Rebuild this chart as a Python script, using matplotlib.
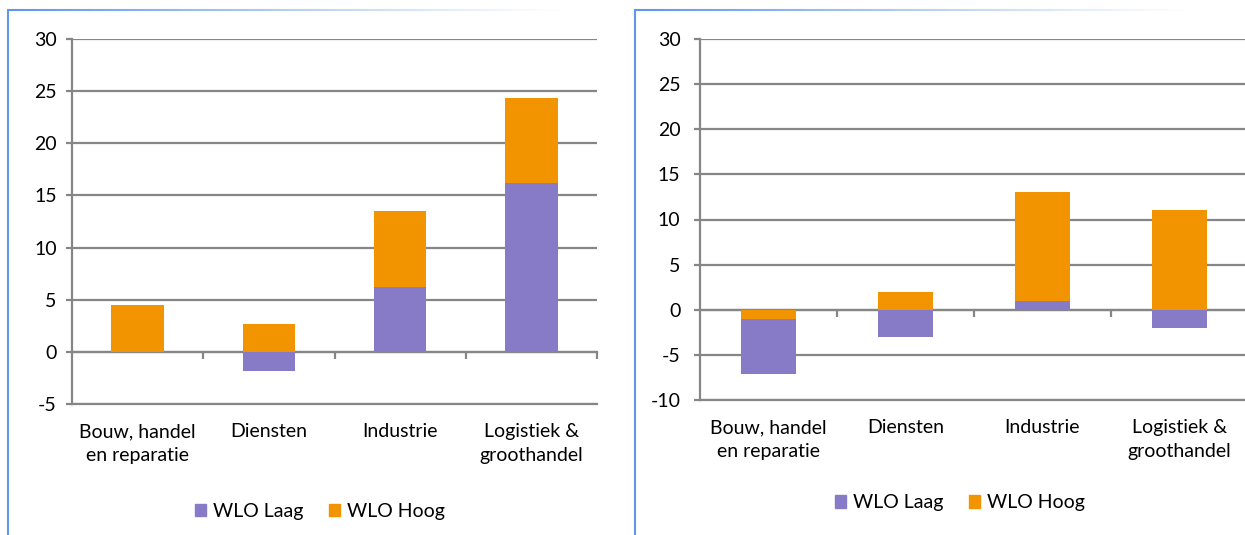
import numpy as np
import matplotlib
matplotlib.use('Agg')
import matplotlib.pyplot as plt
from matplotlib.collections import LineCollection
from matplotlib.patches import Patch

plt.rcParams['font.family'] = ['Lato', 'DejaVu Sans']
plt.rcParams['axes.unicode_minus'] = False

categories = ['Bouw, handel\nen reparatie', 'Diensten', 'Industrie', 'Logistiek &\ngroothandel']
series_names = ['WLO Laag', 'WLO Hoog']

# linker grafiek
left_laag = [0.0, -1.8, 6.2, 16.2]
left_hoog = [4.5, 2.7, 13.5, 24.3]
# rechter grafiek
right_laag = [-7.1, -3.0, 1.0, -2.0]
right_hoog = [-1.0, 2.0, 13.0, 11.0]

PURPLE = '#877bc7'
ORANGE = '#f29400'
GRID = '#868686'
FS = 14

fig = plt.figure(figsize=(12.45, 5.35), dpi=100)


def frame(x0):
    # lichtblauwe kader: verticale lijn links, bovenlijn die naar rechts vervaagt
    fig.add_artist(plt.Line2D([x0, x0], [0, 525 / 535], transform=fig.transFigure,
                              color='#5f97ec', lw=1.5))
    xs = np.linspace(x0, x0 + 0.45, 60)
    segs = [[(xs[i], 525 / 535), (xs[i + 1], 525 / 535)] for i in range(len(xs) - 1)]
    alphas = np.linspace(1, 0, len(segs)) ** 1.1
    cols = [(0.37, 0.59, 0.93, a) for a in alphas]
    fig.add_artist(LineCollection(segs, colors=cols, lw=1.5, transform=fig.transFigure))


def panel(rect, laag, hoog, ylim, legend_anchor, ypad):
    ax = fig.add_axes(rect)
    x = np.arange(len(categories))
    b1 = ax.bar(x, laag, width=0.4, color=PURPLE, linewidth=0)
    b2 = ax.bar(x, hoog, width=0.4, color=ORANGE, linewidth=0)
    # de kleinste balk ligt vooraan
    for i in range(len(categories)):
        if abs(laag[i]) <= abs(hoog[i]):
            b1[i].set_zorder(4)
            b2[i].set_zorder(3)
        else:
            b1[i].set_zorder(3)
            b2[i].set_zorder(4)

    ax.set_xlim(-0.5, len(categories) - 0.5)
    ax.set_ylim(*ylim)
    ax.set_yticks(np.arange(ylim[0], ylim[1] + 1, 5))
    ax.yaxis.grid(True, color=GRID, lw=1.6, zorder=1)
    ax.set_axisbelow(True)

    for s in ['top', 'right']:
        ax.spines[s].set_visible(False)
    for s in ['left', 'bottom']:
        ax.spines[s].set_color(GRID)
        ax.spines[s].set_linewidth(1.6)

    ax.tick_params(axis='y', length=4, width=1.6, color=GRID, labelsize=FS, pad=ypad)
    ax.set_xticks(x)
    ax.set_xticklabels(categories, fontsize=FS, linespacing=1.45)
    ax.tick_params(axis='x', length=0, pad=14)

    # horizontale as op nul met streepjes tussen de categorieen
    zero = (0 - ylim[0]) / (ylim[1] - ylim[0])
    sec = ax.secondary_xaxis(zero)
    sec.set_xticks(np.arange(0.5, len(categories), 1.0))
    sec.set_xticklabels([])
    sec.tick_params(length=5, width=1.6, color=GRID, direction='out')
    sec.spines['bottom'].set_color(GRID)
    sec.spines['bottom'].set_linewidth(1.6)

    handles = [Patch(color=PURPLE), Patch(color=ORANGE)]
    ax.legend(handles, series_names, loc='center', bbox_to_anchor=legend_anchor,
              ncol=2, frameon=False, fontsize=FS, handlelength=0.6, handleheight=0.6,
              handletextpad=0.35, columnspacing=1.3)
    return ax


frame(8 / 1245)
frame(635 / 1245)

panel([72 / 1245, 131 / 535, 525 / 1245, 365 / 535], left_laag, left_hoog, (-5, 30), (0.472, -0.295), 7)
panel([700 / 1245, 135 / 535, 548 / 1245, 361 / 535], right_laag, right_hoog, (-10, 30), (0.474, -0.285), 10)

fig.savefig('out.png', dpi=100)
